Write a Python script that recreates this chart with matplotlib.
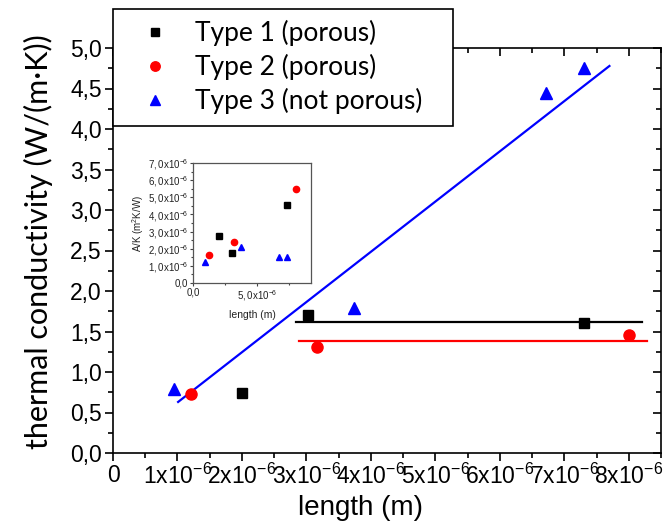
import matplotlib
matplotlib.use("Agg")
import matplotlib.pyplot as plt
from matplotlib.patches import Rectangle
from matplotlib.ticker import MultipleLocator, FixedLocator, FuncFormatter

plt.rcParams["font.family"] = ["Liberation Sans", "DejaVu Sans"]
plt.rcParams["mathtext.fontset"] = "custom"
plt.rcParams["mathtext.rm"] = "Liberation Sans"
plt.rcParams["mathtext.it"] = "Liberation Sans:italic"

W, H = 664, 532

# Sample length (m) and thermal conductivity (W/(m·K))
len_t1 = [2.00e-6, 3.03e-6, 7.30e-6]
k_t1 = [0.74, 1.70, 1.60]
len_t2 = [1.21e-6, 3.17e-6, 8.01e-6]
k_t2 = [0.73, 1.31, 1.46]
len_t3 = [0.95e-6, 3.74e-6, 6.71e-6, 7.30e-6]
k_t3 = [0.79, 1.79, 4.44, 4.75]

# Inset: A/K (m^2 K/W) against length
ak_t1 = [2.72e-6, 1.77e-6, 4.55e-6]
ak_t2 = [1.64e-6, 2.42e-6, 5.50e-6]
ak_t3 = [1.22e-6, 2.10e-6, 1.52e-6, 1.53e-6]

# Linear trend for type 3 and constant levels for types 1 and 2
t3_slope = 0.62e6
t3_intercept = 0.004
t3_range = [1.01e-6, 7.70e-6]
t1_level = 1.62
t1_range = [2.84e-6, 8.21e-6]
t2_level = 1.38
t2_range = [2.89e-6, 8.28e-6]

labels = ["Type 1 (porous)", "Type 2 (porous)", "Type 3 (not porous)"]
x_major = [0, 1e-6, 2e-6, 3e-6, 4e-6, 5e-6, 6e-6, 7e-6, 8e-6]

fig = plt.figure(figsize=(W / 100, H / 100), dpi=100)
ax = fig.add_axes([113 / W, 1 - 453 / H, 548 / W, 405 / H])

ax.plot(t3_range, [t3_slope * x + t3_intercept for x in t3_range], color="#0000ff", lw=1.6, zorder=2)
ax.plot(t1_range, [t1_level, t1_level], color="black", lw=1.6, zorder=2)
ax.plot(t2_range, [t2_level, t2_level], color="#ff0000", lw=1.6, zorder=2)

h1, = ax.plot(len_t1, k_t1, ls="none", marker="s", ms=7, color="black", zorder=3)
h2, = ax.plot(len_t2, k_t2, ls="none", marker="o", ms=8, color="#ff0000", zorder=3)
h3, = ax.plot(len_t3, k_t3, ls="none", marker="^", ms=9, color="#0000ff", zorder=3)

ax.set_xlim(0, 8.5e-6)
ax.set_ylim(0, 5.0)
ax.xaxis.set_major_locator(FixedLocator(x_major))
ax.xaxis.set_minor_locator(MultipleLocator(0.5e-6))
ax.yaxis.set_major_locator(MultipleLocator(0.5))
ax.yaxis.set_minor_locator(MultipleLocator(0.25))


def xfmt(v, pos):
    n = int(round(v * 1e6))
    if n == 0:
        return "0"
    return r"$\mathregular{%dx10^{-6}}$" % n


ax.xaxis.set_major_formatter(FuncFormatter(xfmt))
ax.yaxis.set_major_formatter(FuncFormatter(lambda v, p: ("%.1f" % v).replace(".", ",")))
ax.tick_params(axis="both", which="major", labelsize=16.5, length=6, width=1.2, direction="out", pad=2)
ax.tick_params(axis="both", which="minor", length=3.5, width=1.2, direction="out")
ax.tick_params(which="both", top=True, right=True)
for spine in ax.spines.values():
    spine.set_linewidth(1.2)

# ticks on top and right point inward
for line in ax.xaxis.get_ticklines(minor=False)[1::2] + ax.xaxis.get_ticklines(minor=True)[1::2]:
    line.set_marker(3)
for line in ax.yaxis.get_ticklines(minor=False)[1::2] + ax.yaxis.get_ticklines(minor=True)[1::2]:
    line.set_marker(0)

ax.set_xlabel("length (m)", fontsize=20)
ax.xaxis.set_label_coords((361 - 113) / 548, -(495 - 453) / 405)
ax.set_ylabel("thermal conductivity (W/(m·K))", fontsize=22, family=["Lato", "DejaVu Sans"])
ax.yaxis.set_label_coords(-(113 - 53) / 548, (453 - 242) / 405)

# Legend box, drawn over the top of the plot frame
frame = Rectangle((113 / W, 1 - 126 / H), (453 - 113) / W, (126 - 9) / H,
                  transform=fig.transFigure, facecolor="white", edgecolor="black",
                  linewidth=1.2, zorder=4)
fig.patches.append(frame)

leg = fig.legend([h1, h2, h3], labels, loc="upper left",
                 bbox_to_anchor=(142 / W, 1 - 20 / H), borderaxespad=0, borderpad=0,
                 prop={"family": "Lato", "size": 19}, frameon=False,
                 handlelength=1.0, handletextpad=1.0, labelspacing=0.3, markerscale=0.85)
leg.set_zorder(5)

# Inset: A/K against length
ins = fig.add_axes([193 / W, 1 - 283 / H, 118 / W, 120 / H])
ins.plot(len_t1, ak_t1, ls="none", marker="s", ms=4, color="black")
ins.plot(len_t2, ak_t2, ls="none", marker="o", ms=4.5, color="#ff0000")
ins.plot(len_t3, ak_t3, ls="none", marker="^", ms=5, color="#0000ff")
ins.set_xlim(0, 9.2e-6)
ins.set_ylim(0, 7e-6)
ins.xaxis.set_major_locator(FixedLocator([0, 5e-6]))
ins.xaxis.set_minor_locator(MultipleLocator(2.5e-6))
ins.yaxis.set_major_locator(MultipleLocator(1e-6))
ins.yaxis.set_minor_locator(MultipleLocator(0.5e-6))


def ins_fmt(v, pos):
    n = v / 1e-6
    if abs(n) < 1e-9:
        return "0,0"
    return r"$\mathregular{%s x10^{-6}}$" % ("%.1f" % n).replace(".", ",")


ins.xaxis.set_major_formatter(FuncFormatter(ins_fmt))
ins.yaxis.set_major_formatter(FuncFormatter(ins_fmt))
ins.tick_params(axis="both", which="major", labelsize=7, length=2.5, width=0.8, pad=1,
                colors="#444444", labelcolor="#222222")
ins.tick_params(axis="both", which="minor", length=1.5, width=0.8, colors="#444444")
for spine in ins.spines.values():
    spine.set_linewidth(0.9)
    spine.set_color("#555555")
ins.set_xlabel("length (m)", fontsize=7.5, labelpad=5, color="#222222")
ins.set_ylabel(r"A/K (m$^\mathregular{2}$K/W)", fontsize=7, labelpad=1, color="#222222")

fig.savefig("out.png", dpi=100)
